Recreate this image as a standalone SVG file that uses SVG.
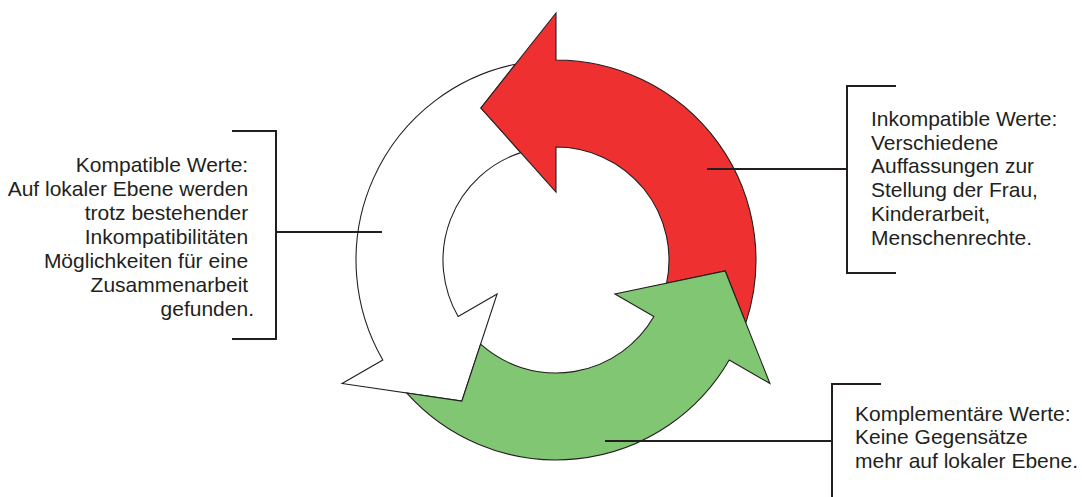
<svg xmlns="http://www.w3.org/2000/svg" width="1082" height="497" viewBox="0 0 1082 497">
  <style>
    .arrow { stroke: #231f20; stroke-width: 1.1; stroke-linejoin: miter; }
    .red { fill: #ee3130; }
    .green { fill: #80c673; }
    .white { fill: #ffffff; }
    .line { fill: none; stroke: #231f20; stroke-width: 2; }
    .txt { font-family: "Liberation Sans", Arial, sans-serif; font-size: 21px; fill: #231f20; }
  </style>
  <defs>
    <path id="cyc" d="M 113,0 L 68,0 L 152,-75.1 L 247,0 L 200,0 A 200,200 0 0 1 -62.9,189.8 L -11,169.2 L -23.2,110.6 A 113,113 0 0 0 113,0 Z"/>
  </defs>
  <rect width="1082" height="497" fill="#ffffff"/>

  <g id="arrow-white" transform="translate(556,260) rotate(150)">
    <use href="#cyc" class="arrow white"/>
  </g>
  <g id="arrow-red" transform="translate(556,260) rotate(-90)">
    <use href="#cyc" class="arrow red"/>
  </g>
  <g id="arrow-green" transform="translate(556,260) rotate(30)">
    <use href="#cyc" class="arrow green"/>
  </g>

  <g id="connectors">
    <line class="line" x1="276" y1="232" x2="382" y2="232"/>
    <line class="line" x1="707" y1="169" x2="847" y2="169"/>
    <line class="line" x1="605" y1="441" x2="832" y2="441"/>
  </g>

  <g id="label-kompatibel">
    <polyline class="line" points="232,131 276,131 276,339 232,339"/>
    <text class="txt" text-anchor="end">
      <tspan x="254" y="171.5">Kompatible Werte:</tspan>
      <tspan x="254" y="195.5">Auf lokaler Ebene werden</tspan>
      <tspan x="254" y="219.5">trotz bestehender</tspan>
      <tspan x="254" y="243.5">Inkompatibilitäten</tspan>
      <tspan x="254" y="267.5">Möglichkeiten für eine</tspan>
      <tspan x="254" y="291.5">Zusammenarbeit</tspan>
      <tspan x="254" y="315.5">gefunden.</tspan>
    </text>
  </g>

  <g id="label-inkompatibel">
    <polyline class="line" points="896,86 847,86 847,273 896,273"/>
    <text class="txt">
      <tspan x="871" y="126">Inkompatible Werte:</tspan>
      <tspan x="871" y="149.7">Verschiedene</tspan>
      <tspan x="871" y="173.4">Auffassungen zur</tspan>
      <tspan x="871" y="197.1">Stellung der Frau,</tspan>
      <tspan x="871" y="220.8">Kinderarbeit,</tspan>
      <tspan x="871" y="244.5">Menschenrechte.</tspan>
    </text>
  </g>

  <g id="label-komplementaer">
    <polyline class="line" points="881,384 832,384 832,498"/>
    <text class="txt">
      <tspan x="855" y="421">Komplementäre Werte:</tspan>
      <tspan x="855" y="444.4">Keine Gegensätze</tspan>
      <tspan x="855" y="467.8">mehr auf lokaler Ebene.</tspan>
    </text>
  </g>
</svg>
